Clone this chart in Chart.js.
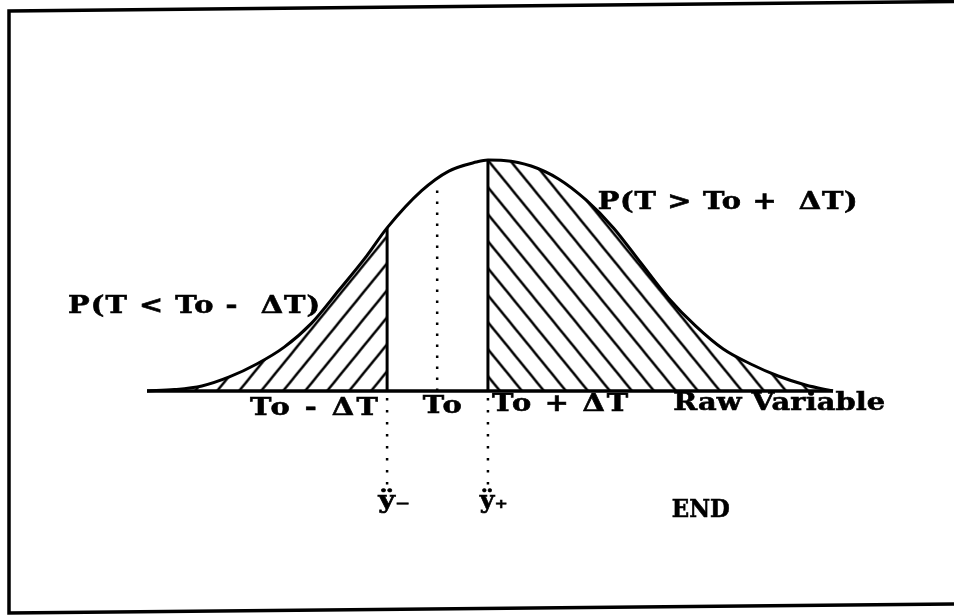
<!DOCTYPE html>
<html>
<head>
<meta charset="utf-8">
<script src="https://cdn.jsdelivr.net/npm/chart.js@4/dist/chart.umd.min.js"></script>
<style>
  body { margin: 0; background: #ffffff; overflow: hidden; }
  canvas { display: block; }
</style>
</head>
<body>
<canvas id="grafico" width="954" height="615"></canvas>
<script>
// Pontos da curva (eixo "Raw Variable" de 0 a 100, altura de 0 a 100)
var curvaX = [0, 4, 8, 12, 16, 20, 24, 28, 32, 35, 40, 44, 48, 49.7, 52, 56, 60, 64, 68, 72, 76, 80, 84, 88, 92, 96, 100];
var curvaY = [0, 0.6, 2.2, 6.1, 11.7, 19.0, 29.4, 43.7, 58.4, 70.6, 86.6, 95.2, 99.1, 100, 99.8, 97.4, 91.8, 82.7, 70.6, 55.4, 40.3, 28.1, 18.2, 11.7, 6.5, 2.6, 0];

// Cortes: To - dT, To, To + dT
var corteEsq = 35;
var corteDir = 49.7;
var xTo = 42.3;
var topoTo = 89;          // onde começa o pontilhado de To
var pontilhadoAbaixo = [-3, -42];  // pontilhado abaixo da linha de base

// Textos do diagrama
var rotulos = [
  { texto: "P(T < To -  \u0394T)", x: -11.5, y: 33.8, largura: 252 },
  { texto: "P(T > To +  \u0394T)", x: 65.7, y: 79.0, largura: 260 },
  { texto: "To - \u0394T", x: 15.0, y: -10.4, largura: 128 },
  { texto: "To", x: 40.2, y: -9.5, largura: 39 },
  { texto: "To + \u0394T", x: 50.3, y: -8.7, largura: 136 },
  { texto: "Raw Variable", x: 76.7, y: -8.2, largura: 212 },
  { texto: "\u00ff\u208b", x: 33.7, y: -50.6, largura: 32 },
  { texto: "\u00ff\u208a", x: 48.5, y: -50.6, largura: 28 },
  { texto: "END", x: 76.5, y: -54.5, largura: 58 }
];

document.addEventListener("DOMContentLoaded", function()
{
  // monta os pontos {x, y} a partir das listas
  var pontos = curvaX.map(function(x, i) { return { x: x, y: curvaY[i] }; });
  var caudaEsq = pontos.filter(function(p) { return p.x <= corteEsq; });
  var caudaDir = pontos.filter(function(p) { return p.x >= corteDir; });
  var alturaEsq = curvaY[curvaX.indexOf(corteEsq)];
  var alturaDir = curvaY[curvaX.indexOf(corteDir)];

  var ctx = document.getElementById("grafico").getContext("2d");

  // hachura: linhas inclinadas repetidas (padrão do canvas)
  function criaHachura(sentido, deslocX)
  {
    var W = 22, H = 27;
    var c = document.createElement("canvas");
    c.width = W; c.height = H;
    var g = c.getContext("2d");
    g.strokeStyle = "#000";
    g.lineWidth = 2.4;
    for (var k = -1; k <= 1; k++)
    {
      g.beginPath();
      if (sentido === "/") { g.moveTo(k * W - W, 2 * H); g.lineTo(k * W + 2 * W, -H); }
      else { g.moveTo(k * W - W, -H); g.lineTo(k * W + 2 * W, 2 * H); }
      g.stroke();
    }
    var p = ctx.createPattern(c, "repeat");
    p.setTransform(new DOMMatrix([1, 0, 0, 1, deslocX, 0]));
    return p;
  }

  // moldura e textos desenhados depois do gráfico
  var extras = {
    id: "extras",
    afterDraw: function(chart)
    {
      var c = chart.ctx;
      var sx = chart.scales.x, sy = chart.scales.y;
      c.save();
      c.strokeStyle = "#000";
      c.lineWidth = 3.5;
      c.beginPath();
      c.moveTo(954, 1.5); c.lineTo(9, 11); c.lineTo(9, 613); c.lineTo(954, 604);
      c.stroke();
      c.restore();

      rotulos.forEach(function(r)
      {
        c.save();
        c.fillStyle = "#000";
        c.strokeStyle = "#000";
        c.lineWidth = 0.6;
        c.textBaseline = "alphabetic";
        c.textAlign = "left";
        c.font = "bold 24px 'DejaVu Serif'";
        c.letterSpacing = "0px";
        var w = c.measureText(r.texto).width;
        var n = Array.from(r.texto).length;
        // estica um pouco a letra e completa com espaçamento
        var esc = Math.min(r.largura / w, 1.2);
        var esp = n > 1 ? (r.largura / esc - w) / (n - 1) : 0;
        c.letterSpacing = esp + "px";
        c.translate(sx.getPixelForValue(r.x), sy.getPixelForValue(r.y));
        c.scale(esc, 1);
        c.fillText(r.texto, 0, 0);
        c.strokeText(r.texto, 0, 0);
        c.restore();
      });
    }
  };

  var linha = { showLine: true, pointRadius: 0, borderColor: "#000", clip: false, fill: false };

  new Chart(ctx,
  {
    type: "scatter",
    data:
    {
      datasets: [
        Object.assign({}, linha, { data: pontos, borderWidth: 3, cubicInterpolationMode: "monotone" }),
        Object.assign({}, linha, { data: [{ x: 0, y: 0 }, { x: 100, y: 0 }], borderWidth: 3.5 }),
        Object.assign({}, linha, { data: [{ x: corteEsq, y: 0 }, { x: corteEsq, y: alturaEsq }], borderWidth: 3 }),
        Object.assign({}, linha, { data: [{ x: corteDir, y: 0 }, { x: corteDir, y: alturaDir }], borderWidth: 3 }),
        Object.assign({}, linha, { data: [{ x: xTo, y: 0 }, { x: xTo, y: topoTo }], borderWidth: 2.5, borderDash: [2.5, 8.5] }),
        Object.assign({}, linha, { data: [{ x: corteEsq, y: pontilhadoAbaixo[0] }, { x: corteEsq, y: pontilhadoAbaixo[1] }], borderWidth: 2.5, borderDash: [2.5, 9.5] }),
        Object.assign({}, linha, { data: [{ x: corteDir, y: pontilhadoAbaixo[0] }, { x: corteDir, y: pontilhadoAbaixo[1] }], borderWidth: 2.5, borderDash: [2.5, 9.5] }),
        // áreas hachuradas das caudas
        { data: caudaEsq, showLine: true, pointRadius: 0, borderWidth: 0, borderColor: "rgba(0,0,0,0)", cubicInterpolationMode: "monotone", fill: "origin", backgroundColor: criaHachura("/", 7.6), clip: false },
        { data: caudaDir, showLine: true, pointRadius: 0, borderWidth: 0, borderColor: "rgba(0,0,0,0)", cubicInterpolationMode: "monotone", fill: "origin", backgroundColor: criaHachura("\\", 5.4), clip: false }
      ]
    },
    options:
    {
      responsive: false,
      animation: false,
      devicePixelRatio: 1,
      layout: { padding: { left: 147, right: 121, top: 160, bottom: 224 } },
      scales:
      {
        x: { type: "linear", min: 0, max: 100, display: false },
        y: { type: "linear", min: 0, max: 100, display: false }
      },
      plugins: { legend: { display: false }, tooltip: { enabled: false } }
    },
    plugins: [extras]
  });
});
</script>
</body>
</html>
